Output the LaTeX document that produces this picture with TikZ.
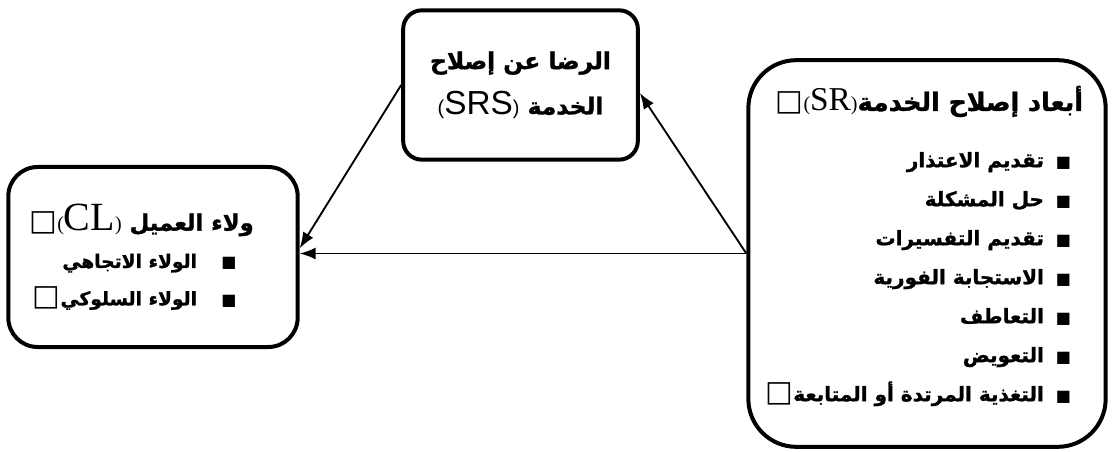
\documentclass[tikz,border=0pt]{standalone}
\usepackage{fontspec}
\usetikzlibrary{arrows.meta}
\TeXXeTstate=1
\newfontfamily\arabicfont[Script=Arabic, BoldFeatures={FakeBold=1.2}]{DejaVu Sans}
\newfontfamily\symfont{DejaVu Sans}
\newfontfamily\romfont{Liberation Serif}
\newfontfamily\grotfont{Liberation Sans}

\newcommand{\bul}[1][0.6em]{{\symfont\mdseries\fontsize{12}{12}\selectfont ■}\hspace{#1}}
\newcommand{\miss}{{\symfont\mdseries\fontsize{22}{22}\selectfont □}}
\newcommand{\abbr}[3][25]{\beginL{#2\mdseries\fontsize{15}{15}\selectfont(}{#2\mdseries\fontsize{#1}{#1}\selectfont #3}{#2\mdseries\fontsize{15}{15}\selectfont)}\endL}

\tikzset{
  box/.style={draw, line width=3pt, align=right},
  link/.style={line width=1.4pt, -{Latex[length=12pt,width=9pt]}},
}

\begin{document}
\begin{tikzpicture}[x=0.75pt, y=-0.75pt]
\useasboundingbox (0,0) rectangle (1113,452);

\node[box, align=center, rounded corners=14pt, minimum width=176pt, minimum height=112pt,
  font=\arabicfont\bfseries\fontsize{17.5}{34}\selectfont] (srs) at (520.5,85)
  {\beginR الرضا عن إصلاح\endR\\
   \beginR الخدمة \abbr{\grotfont}{SRS}\endR};

\node[box, rounded corners=22pt, minimum width=217pt, minimum height=135pt,
  font=\arabicfont\bfseries\fontsize{14}{28}\selectfont] (cl) at (153,257)
  {\beginR\hspace*{17pt}{\fontsize{17}{17}\selectfont ولاء العميل }\abbr[30]{\romfont}{CL}\miss\endR\\
   \beginR\hspace*{30pt}\bul[1.3em]الولاء الاتجاهي\endR\\
   \beginR\hspace*{30pt}\bul[1.3em]الولاء السلوكي\miss\endR};

\node[box, rounded corners=36pt, minimum width=268pt, minimum height=290pt,
  font=\arabicfont\bfseries\fontsize{15}{29.25}\selectfont] (sr) at (927,253.5)
  {\beginR\hspace*{4pt}{\fontsize{19}{19}\selectfont أبعاد إصلاح الخدمة}\abbr{\romfont}{SR}\miss\endR\\[13pt]
   \beginR\hspace*{13pt}\bul تقديم الاعتذار\endR\\
   \beginR\hspace*{13pt}\bul حل المشكلة\endR\\
   \beginR\hspace*{13pt}\bul تقديم التفسيرات\endR\\
   \beginR\hspace*{13pt}\bul الاستجابة الفورية\endR\\
   \beginR\hspace*{13pt}\bul التعاطف\endR\\
   \beginR\hspace*{13pt}\bul التعويض\endR\\
   \beginR\hspace*{13pt}\bul التغذية المرتدة أو المتابعة\miss\endR\rule[-15pt]{0pt}{0pt}};

\draw[link] (sr.west) -- (sr.west -| cl.east);
\draw[link] (sr.west) -- ([yshift=-6pt]srs.east);
\draw[link] (srs.west) -- ([yshift=6.5pt]cl.east);
\end{tikzpicture}
\end{document}
